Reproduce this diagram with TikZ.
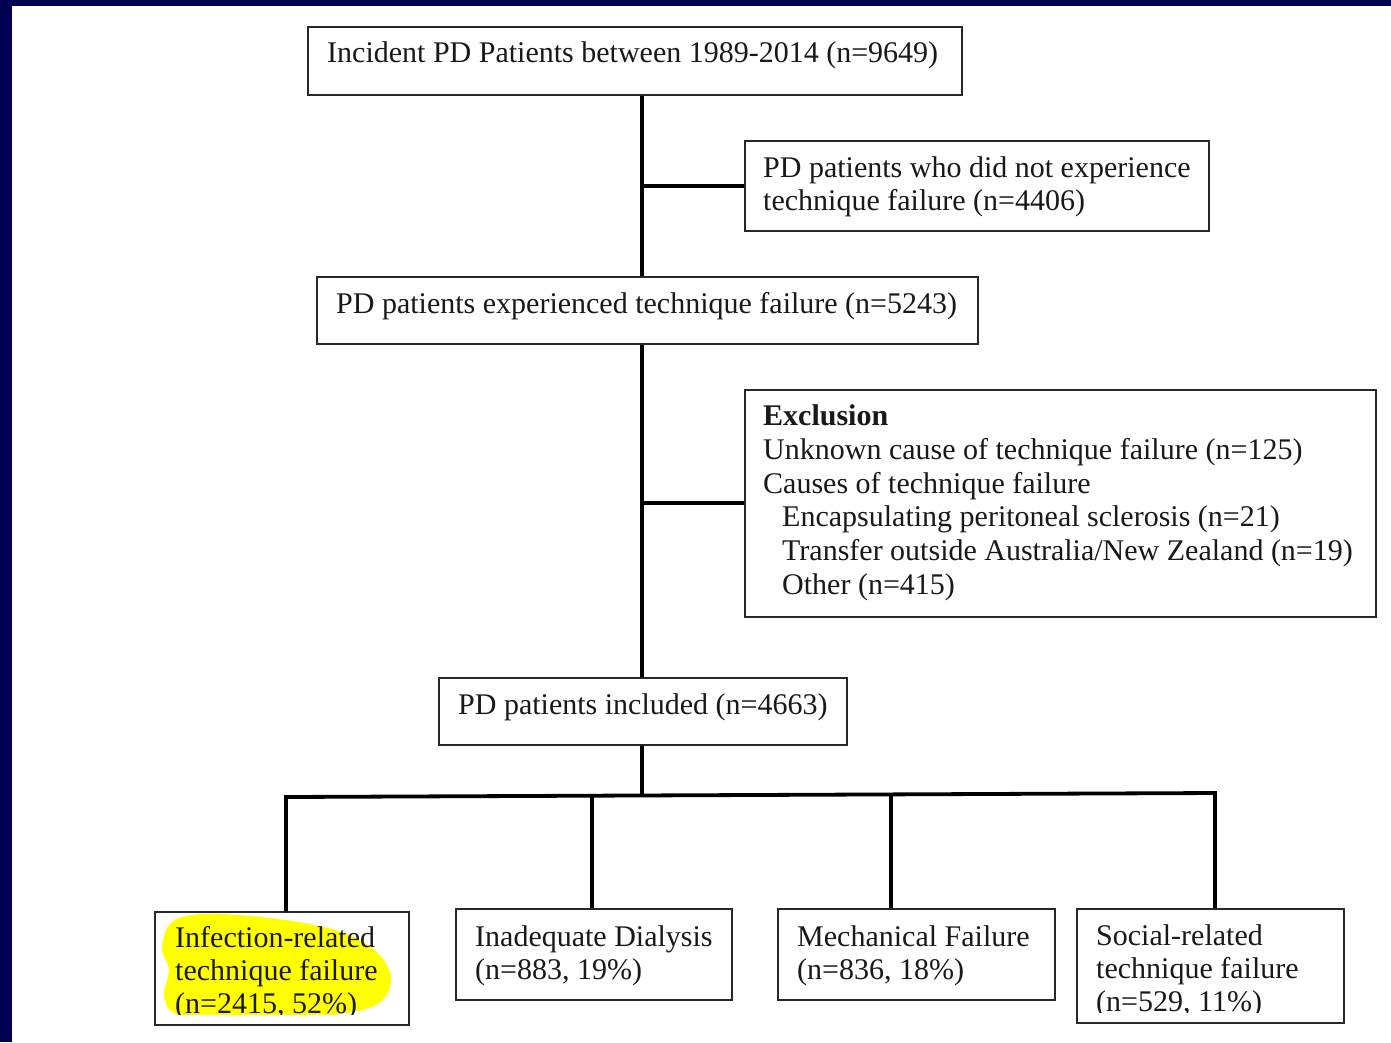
\documentclass[tikz,border=0pt]{standalone}
\usepackage{fontspec}
\setmainfont{Liberation Serif}
\usetikzlibrary{calc}
\definecolor{navy}{RGB}{0,0,80}
\definecolor{hl}{RGB}{255,255,0}
\definecolor{frame}{RGB}{40,40,40}
\begin{document}
\begin{tikzpicture}[x=1pt,y=-1pt,
  box/.style={draw=frame, line width=1.6pt, rectangle, inner sep=0pt, anchor=north west},
  txt/.style={anchor=base west, inner sep=0pt, font=\fontsize{30}{33}\selectfont, text=black!90},
  conn/.style={line width=3.8pt, black}]
% page background and dark frame strips
\fill[white] (0,0) rectangle (1391,1042);
\fill[navy] (0,0) rectangle (12,1042);
\fill[navy] (0,0) rectangle (1391,6);
\useasboundingbox (0,0) rectangle (1391,1042);

% boxes
\node[box, minimum width=654pt, minimum height=68pt]  (start)  at (307,26)  {};
\node[box, minimum width=464pt, minimum height=90pt]  (nofail) at (744,140) {};
\node[box, minimum width=661pt, minimum height=67pt]  (fail)   at (316,276) {};
\node[box, minimum width=631pt, minimum height=227pt] (excl)   at (744,389) {};
\node[box, minimum width=408pt, minimum height=67pt]  (incl)   at (438,677) {};
\node[box, minimum width=254pt, minimum height=113pt] (inf)    at (154,911) {};
\node[box, minimum width=276pt, minimum height=91pt]  (inad)   at (455,908) {};
\node[box, minimum width=277pt, minimum height=91pt]  (mech)   at (777,908) {};
\node[box, minimum width=267pt, minimum height=114pt] (soc)    at (1076,908) {};

% box texts
\node[txt] (tstart) at (327,62) {Incident PD Patients between 1989-2014 (n=9649)};
\node[txt] (tnof1) at (763,177) {PD patients who did not experience};
\node[txt] (tnof2) at (763,210) {technique failure (n=4406)};
\node[txt] (tfail) at (336,313) {PD patients experienced technique failure (n=5243)};
\node[txt, font=\fontsize{30}{33}\selectfont\bfseries] (tex0) at (763,425) {Exclusion};
\node[txt] (tex1) at (763,459) {Unknown cause of technique failure (n=125)};
\node[txt] (tex2) at (763,493) {Causes of technique failure};
\node[txt] (tex3) at (782,526) {Encapsulating peritoneal sclerosis (n=21)};
\node[txt] (tex4) at (782,560) {Transfer outside Australia/New Zealand (n=19)};
\node[txt] (tex5) at (782,594) {Other (n=415)};
\node[txt] (tincl) at (458,714) {PD patients included (n=4663)};

\begin{scope}
  \clip (156,913) rectangle (406,1014);
  % marker highlight
  \fill[hl] plot[smooth cycle, tension=0.6] coordinates {
    (162,948) (172,922) (205,914) (270,918) (335,930) (372,948) (390,972)
    (386,996) (362,1010) (300,1018) (220,1021) (176,1014) (164,996) (169,970)};
  \node[txt] (tinf1) at (175,947) {Infection-related};
  \node[txt] (tinf2) at (175,980) {technique failure};
  \node[txt] (tinf3) at (175,1013) {(n=2415, 52\%)};
\end{scope}
\node[txt] (tinad1) at (475,946) {Inadequate Dialysis};
\node[txt] (tinad2) at (475,979) {(n=883, 19\%)};
\node[txt] (tmech1) at (797,946) {Mechanical Failure};
\node[txt] (tmech2) at (797,979) {(n=836, 18\%)};
\begin{scope}
  \clip (1078,910) rectangle (1341,1012);
  \node[txt] (tsoc1) at (1096,945) {Social-related};
  \node[txt] (tsoc2) at (1096,978) {technique failure};
  \node[txt] (tsoc3) at (1096,1011) {(n=529, 11\%)};
\end{scope}

% connectors
\coordinate (spine) at (642,0);
\coordinate (barL) at (286,797);
\coordinate (barR) at (1215,793);
\coordinate (dropM) at ($(barL)!0.3832!(barR)$);
\coordinate (dropB) at ($(barL)!0.3294!(barR)$);
\coordinate (dropC) at ($(barL)!0.6512!(barR)$);
\draw[conn] (start.south -| spine) -- (fail.north -| spine);
\draw[conn] (nofail.west) -- (nofail.west -| spine);
\draw[conn] (fail.south -| spine) -- (incl.north -| spine);
\draw[conn] (excl.west) -- (excl.west -| spine);
\draw[conn] (incl.south -| spine) -- (dropM);
\draw[conn] (barL |- inf.north) -- (barL) -- (barR) -- (barR |- soc.north);
\draw[conn] (dropB) -- (dropB |- inad.north);
\draw[conn] (dropC) -- (dropC |- mech.north);
\end{tikzpicture}
\end{document}
